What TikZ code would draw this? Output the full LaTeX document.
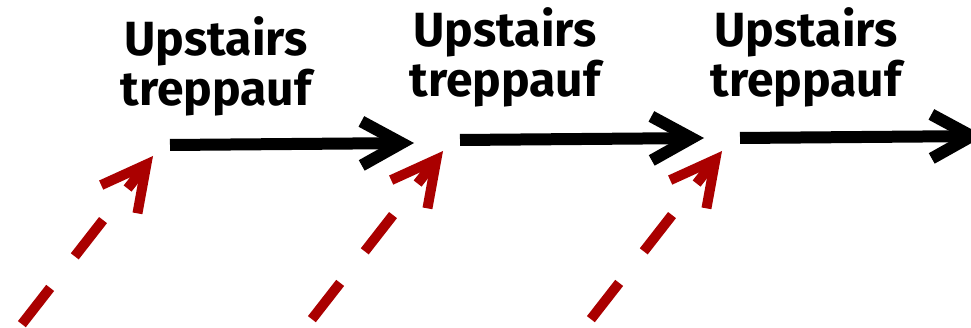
\documentclass[tikz,border=0pt]{standalone}
\usepackage{fontspec}
\setmainfont{Fira Sans}
\usetikzlibrary{arrows.meta}
\definecolor{climbred}{HTML}{AA0000}

\begin{document}
\begin{tikzpicture}[x=1pt,y=-1pt,
    stair/.style={line width=12pt,shorten >=-24pt,
      -{Straight Barb[length=40pt,width=44pt,sharp,sep=24pt]}},
    climb/.style={line width=10pt,draw=climbred,dash pattern=on 46pt off 40pt,
      -{Straight Barb[length=44pt,width=46pt,sharp]}},
    word/.style={font=\bfseries\fontsize{48}{50}\selectfont,align=center,
      anchor=base,inner sep=0pt}]
  \useasboundingbox (0,0) rectangle (971,328);

  % steps
  \coordinate (s1) at (170,145);
  \coordinate (e1) at (414,143);
  \coordinate (s2) at (460,140);
  \coordinate (e2) at (704,138);
  \coordinate (s3) at (740,138);
  \coordinate (e3) at (984,136);
  \draw[stair] (s1) -- (e1);
  \draw[stair] (s2) -- (e2);
  \draw[stair] (s3) -- (e3);

  % labels
  \node[word] (w1) at (216,106) {Upstairs\\treppauf};
  \node[word] (w2) at (505,97) {Upstairs\\treppauf};
  \node[word] (w3) at (806,97) {Upstairs\\treppauf};

  % dashed climbs
  \coordinate (c1) at (-31,392);
  \coordinate (t1) at (153,156);
  \coordinate (c2) at (259,387);
  \coordinate (t2) at (443,151);
  \coordinate (c3) at (538,387);
  \coordinate (t3) at (722,151);
  \draw[climb] (c1) -- (t1);
  \draw[climb] (c2) -- (t2);
  \draw[climb] (c3) -- (t3);
\end{tikzpicture}
\end{document}
